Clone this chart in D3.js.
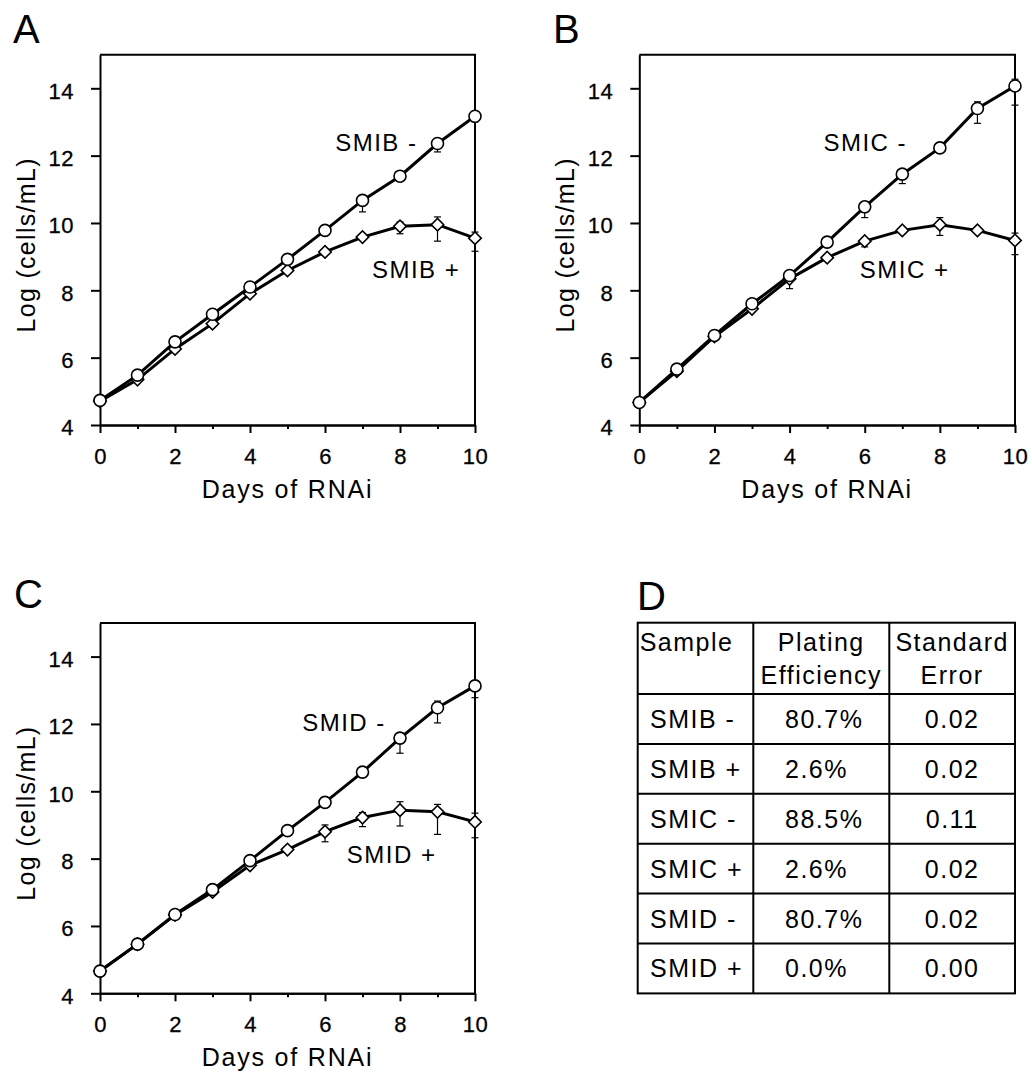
<!DOCTYPE html>
<html lang="en">
<head>
<meta charset="utf-8">
<title>Growth curves after RNAi</title>
<script src="https://cdn.jsdelivr.net/npm/d3@7"></script>
<style>
	body { margin: 0; background: #fff; }
	svg text { font-family: "Liberation Sans", Arial, Helvetica, sans-serif; fill: #000; }
	.axis path, .axis line { stroke: #000; stroke-width: 2; }
	.axis text { font-size: 22px; letter-spacing: 0.5px; stroke: #000; stroke-width: 0.3px; }
</style>
</head>
<body>
<svg id="fig" width="1032" height="1074"></svg>
<script>
// days on the x axis
var days = [0, 1, 2, 3, 4, 5, 6, 7, 8, 9, 10];
var xTickLabels = [0, 2, 4, 6, 8, 10];
var yTickLabels = [4, 6, 8, 10, 12, 14];

// panel A
var smibMinus   = [4.73, 5.48, 6.47, 7.29, 8.10, 8.92, 9.78, 10.67, 11.39, 12.36, 13.17];
var smibMinusLo = [0, 0, 0, 0, 0, 0, 0, 0.34, 0, 0.25, 0.17];
var smibMinusHi = [0, 0, 0, 0, 0, 0, 0, 0.10, 0, 0.10, 0.10];
var smibPlus    = [4.71, 5.35, 6.26, 7.01, 7.90, 8.59, 9.14, 9.58, 9.90, 9.95, 9.55];
var smibPlusLo  = [0, 0, 0, 0, 0, 0, 0, 0, 0.22, 0.49, 0.39];
var smibPlusHi  = [0, 0, 0, 0, 0, 0, 0, 0, 0.13, 0.23, 0.18];

// panel B
var smicMinus   = [4.67, 5.66, 6.66, 7.60, 8.44, 9.43, 10.48, 11.45, 12.23, 13.40, 14.07];
var smicMinusLo = [0, 0, 0, 0, 0.39, 0, 0.32, 0.28, 0, 0.44, 0.57];
var smicMinusHi = [0, 0, 0, 0, 0.10, 0, 0.10, 0.10, 0, 0.20, 0.20];
var smicPlus    = [4.67, 5.60, 6.63, 7.45, 8.34, 8.97, 9.46, 9.78, 9.95, 9.78, 9.48];
var smicPlusLo  = [0, 0, 0, 0, 0, 0, 0.17, 0, 0.32, 0, 0.42];
var smicPlusHi  = [0, 0, 0, 0, 0, 0, 0.05, 0, 0.21, 0, 0.22];

// panel C
var smidMinus   = [4.66, 5.46, 6.34, 7.08, 7.94, 8.83, 9.67, 10.57, 11.58, 12.48, 13.13];
var smidMinusLo = [0, 0, 0, 0, 0, 0, 0, 0, 0.45, 0.45, 0.35];
var smidMinusHi = [0, 0, 0, 0, 0, 0, 0, 0, 0.15, 0.20, 0.05];
var smidPlus    = [4.66, 5.46, 6.33, 7.01, 7.80, 8.27, 8.80, 9.22, 9.44, 9.39, 9.09];
var smidPlusLo  = [0, 0, 0, 0, 0, 0, 0.30, 0.27, 0.47, 0.67, 0.47];
var smidPlusHi  = [0, 0, 0, 0, 0, 0, 0.20, 0.15, 0.25, 0.22, 0.26];

// panel D table
var tableHeader = [["Sample"], ["Plating", "Efficiency"], ["Standard", "Error"]];
var samples  = ["SMIB -", "SMIB +", "SMIC -", "SMIC +", "SMID -", "SMID +"];
var plating  = ["80.7%", "2.6%", "88.5%", "2.6%", "80.7%", "0.0%"];
var stdError = ["0.02", "0.02", "0.11", "0.02", "0.02", "0.00"];

var svg = d3.select("#fig");
var unit = 33.67;   // px per log unit

var panels = [
	{ letter: "A", lx: 13, ly: 43, left: 100, right: 475, bottom: 425,
	  series: [
		{ name: "SMIB -", v: smibMinus, lo: smibMinusLo, hi: smibMinusHi, shape: "circle", at: [6.27, 12.15] },
		{ name: "SMIB +", v: smibPlus, lo: smibPlusLo, hi: smibPlusHi, shape: "diamond", at: [7.25, 8.36] }
	  ] },
	{ letter: "B", lx: 553, ly: 43, left: 639.3, right: 1015, bottom: 425,
	  series: [
		{ name: "SMIC -", v: smicMinus, lo: smicMinusLo, hi: smicMinusHi, shape: "circle", at: [4.90, 12.15] },
		{ name: "SMIC +", v: smicPlus, lo: smicPlusLo, hi: smicPlusHi, shape: "diamond", at: [5.87, 8.36] }
	  ] },
	{ letter: "C", lx: 14, ly: 608, left: 100, right: 475, bottom: 993.3,
	  series: [
		{ name: "SMID -", v: smidMinus, lo: smidMinusLo, hi: smidMinusHi, shape: "circle", at: [5.39, 11.80] },
		{ name: "SMID +", v: smidPlus, lo: smidPlusLo, hi: smidPlusHi, shape: "diamond", at: [6.58, 7.87] }
	  ] }
];

var drawPanel = function(p) {
	var g = svg.append("g");
	var x = d3.scaleLinear().domain([0, 10]).range([p.left, p.right]);
	var y = d3.scaleLinear().domain([4, 15]).range([p.bottom, p.bottom - 11 * unit]);

	// minor x ticks (odd days)
	g.append("g").attr("class", "axis")
		.attr("transform", "translate(0," + p.bottom + ")")
		.call(d3.axisBottom(x).tickValues(days.filter(function(d) { return d % 2 == 1; }))
			.tickSize(4).tickSizeOuter(0).tickFormat(""));

	g.append("g").attr("class", "axis")
		.attr("transform", "translate(0," + p.bottom + ")")
		.call(d3.axisBottom(x).tickValues(xTickLabels).tickSize(8).tickSizeOuter(0).tickPadding(15));

	var ya = g.append("g").attr("class", "axis")
		.attr("transform", "translate(" + p.left + ",0)")
		.call(d3.axisLeft(y).tickValues(yTickLabels).tickSize(9).tickSizeOuter(0).tickPadding(17));
	ya.selectAll("text").attr("dy", "0.45em");

	// top and right frame
	g.append("path")
		.attr("d", "M" + x(0) + "," + y(15) + "H" + x(10) + "V" + y(4))
		.attr("fill", "none").attr("stroke", "#000").attr("stroke-width", 2);

	// titles
	g.append("text")
		.attr("x", (p.left + p.right) / 2).attr("y", p.bottom + 73)
		.attr("text-anchor", "middle").style("font-size", "25px").style("letter-spacing", "1.8px")
		.text("Days of RNAi");
	var cy = (y(4) + y(15)) / 2 + 5;
	g.append("text")
		.attr("transform", "translate(" + (p.left - 65) + "," + cy + ") rotate(-90)")
		.attr("text-anchor", "middle").style("font-size", "25px").style("letter-spacing", "1.3px")
		.text("Log (cells/mL)");
	svg.append("text").attr("x", p.lx).attr("y", p.ly).style("font-size", "40px").text(p.letter);

	var line = d3.line().x(function(d, i) { return x(days[i]); }).y(function(d) { return y(d); });

	p.series.forEach(function(s) {
		g.append("path").datum(s.v).attr("d", line)
			.attr("fill", "none").attr("stroke", "#000").attr("stroke-width", 3);
	});

	// error bars
	p.series.forEach(function(s) {
		var eb = g.append("g").attr("stroke", "#000").attr("stroke-width", 1.2);
		s.v.forEach(function(v, i) {
			if (!s.lo[i] && !s.hi[i]) return;
			var cx = x(days[i]), y1 = y(v - s.lo[i]), y2 = y(v + s.hi[i]);
			eb.append("line").attr("x1", cx).attr("x2", cx).attr("y1", y1).attr("y2", y2);
			eb.append("line").attr("x1", cx - 3.5).attr("x2", cx + 3.5).attr("y1", y1).attr("y2", y1);
			eb.append("line").attr("x1", cx - 3.5).attr("x2", cx + 3.5).attr("y1", y2).attr("y2", y2);
		});
	});

	// markers: diamonds first, circles drawn after
	p.series.slice().reverse().forEach(function(s) {
		var m = g.selectAll(null).data(s.v).enter();
		if (s.shape == "circle") {
			m.append("circle")
				.attr("cx", function(d, i) { return x(days[i]); })
				.attr("cy", function(d) { return y(d); })
				.attr("r", 6)
				.attr("fill", "#fff").attr("stroke", "#000").attr("stroke-width", 1.6);
		} else {
			m.append("path")
				.attr("d", d3.symbol(d3.symbolSquare, 78))
				.attr("transform", function(d, i) { return "translate(" + x(days[i]) + "," + y(d) + ") rotate(45)"; })
				.attr("fill", "#fff").attr("stroke", "#000").attr("stroke-width", 1.6);
		}
		g.append("text")
			.attr("x", x(s.at[0])).attr("y", y(s.at[1]))
			.style("font-size", "24px").style("letter-spacing", "1.5px")
			.text(s.name);
	});
};

panels.forEach(drawPanel);

// panel D
svg.append("text").attr("x", 637).attr("y", 610).style("font-size", "40px").text("D");

var colX = [637.7, 753.3, 889.3, 1015];
var rowY = [622.7, 694].concat(samples.map(function(d, i) { return 694 + 49.9 * (i + 1); }));

var tbl = svg.append("g");
tbl.append("rect")
	.attr("x", colX[0]).attr("y", rowY[0])
	.attr("width", colX[3] - colX[0]).attr("height", rowY[rowY.length - 1] - rowY[0])
	.attr("fill", "none").attr("stroke", "#000").attr("stroke-width", 2);
tbl.selectAll(null).data(colX.slice(1, 3)).enter().append("line")
	.attr("x1", function(d) { return d; }).attr("x2", function(d) { return d; })
	.attr("y1", rowY[0]).attr("y2", rowY[rowY.length - 1])
	.attr("stroke", "#000").attr("stroke-width", 2);
tbl.selectAll(null).data(rowY.slice(1, rowY.length - 1)).enter().append("line")
	.attr("x1", colX[0]).attr("x2", colX[3])
	.attr("y1", function(d) { return d; }).attr("y2", function(d) { return d; })
	.attr("stroke", "#000").attr("stroke-width", 2);

var cellFont = function(sel) { return sel.style("font-size", "25px").style("letter-spacing", "1.5px"); };

// header, top aligned in its cell
tableHeader.forEach(function(lines, c) {
	lines.forEach(function(t, k) {
		var tx = tbl.append("text").attr("y", 651 + 33 * k).text(t);
		if (c == 0) tx.attr("x", colX[0] + 2);
		else tx.attr("x", (colX[c] + colX[c + 1]) / 2).attr("text-anchor", "middle");
		cellFont(tx);
	});
});

samples.forEach(function(s, i) {
	var by = (rowY[i + 1] + rowY[i + 2]) / 2 + 9;
	cellFont(tbl.append("text").attr("x", 650).attr("y", by).text(s));
	cellFont(tbl.append("text").attr("x", 785).attr("y", by).text(plating[i]));
	cellFont(tbl.append("text").attr("x", (colX[2] + colX[3]) / 2).attr("y", by)
		.attr("text-anchor", "middle").text(stdError[i]));
});
</script>
</body>
</html>
